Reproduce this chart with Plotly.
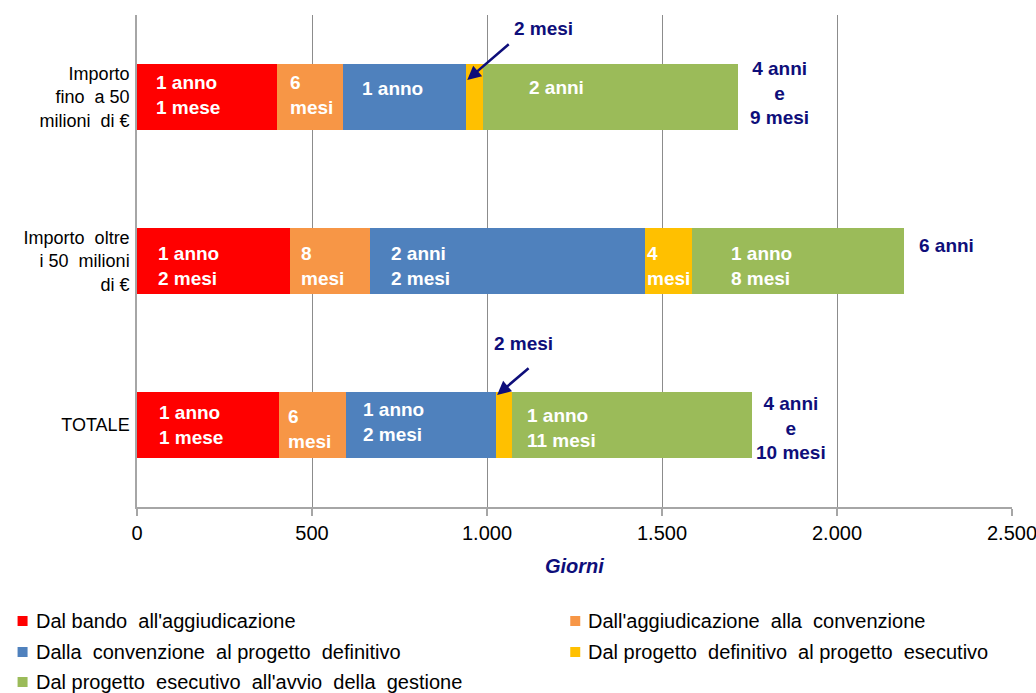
import plotly.graph_objects as go

# Categories (top to bottom) and phase durations in days
categories = [
    "Importo<br>fino  a 50<br>milioni  di €",
    "Importo  oltre<br>i 50  milioni<br>di €",
    "TOTALE",
]
phases = [
    "Dal bando  all'aggiudicazione",
    "Dall'aggiudicazione  alla  convenzione",
    "Dalla  convenzione  al progetto  definitivo",
    "Dal progetto  definitivo  al progetto  esecutivo",
    "Dal progetto  esecutivo  all'avvio  della  gestione",
]
bando_aggiudicazione = [401, 437, 405]
aggiudicazione_convenzione = [187, 229, 192]
convenzione_definitivo = [351, 784, 429]
definitivo_esecutivo = [49, 136, 45]
esecutivo_gestione = [730, 605, 686]

# Duration labels written on each segment (None = labelled with an arrow)
labels_bando = ["1 anno<br>1 mese", "1 anno<br>2 mesi", "1 anno<br>1 mese"]
labels_aggiudicazione = ["6<br>mesi", "8<br>mesi", "6<br>mesi"]
labels_convenzione = ["1 anno", "2 anni<br>2 mesi", "1 anno<br>2 mesi"]
labels_definitivo = [None, "4<br>mesi", None]
labels_esecutivo = ["2 anni", "1 anno<br>8 mesi", "1 anno<br>11 mesi"]
labels_totale = ["4 anni<br>e<br>9 mesi", "6 anni", "4 anni<br>e<br>10 mesi"]
arrow_label = "2 mesi"

x_ticks = [0, 500, 1000, 1500, 2000, 2500]

series = [
    bando_aggiudicazione,
    aggiudicazione_convenzione,
    convenzione_definitivo,
    definitivo_esecutivo,
    esecutivo_gestione,
]
series_labels = [
    labels_bando,
    labels_aggiudicazione,
    labels_convenzione,
    labels_definitivo,
    labels_esecutivo,
]
colors = ["#FF0000", "#F79646", "#4F81BD", "#FFC000", "#9BBB59"]
navy = "#0E0E7A"
FONT = "Liberation Sans, Arial, sans-serif"

# Label placement (pixel offsets from the start of each segment / row centre)
label_dx = [
    [17, 19, 20],
    [11, 9, 7],
    [17, 19, 15],
    [0, 0, 0],
    [44, 37, 13],
]
label_dy = [
    [2.5, -5, 0.5],
    [2.5, -5, -4],
    [8.7, -5, 3],
    [0, -5, 0],
    [10, -5, -2.5],
]
total_dx = [41, 43, 39]
total_dy = [4, 16, -2.5]

# plot area in pixels
L, R, T, B = 136.5, 1012, 15, 507
W, H = 1036, 693

fig = go.Figure()
for name, vals, col in zip(phases, series, colors):
    fig.add_trace(go.Bar(
        y=categories, x=vals, name=name, orientation="h",
        marker=dict(color=col, line=dict(width=0)),
        showlegend=False, hoverinfo="x+name",
    ))

annotations = []
starts = [0, 0, 0]
seg_starts = []
for s, vals in enumerate(series):
    seg_starts.append(list(starts))
    for i, v in enumerate(vals):
        lab = series_labels[s][i]
        if lab is not None:
            annotations.append(dict(
                x=starts[i], y=categories[i], xref="x", yref="y",
                text=lab, showarrow=False, xanchor="left", yanchor="middle",
                align="left", xshift=label_dx[s][i], yshift=label_dy[s][i],
                font=dict(family=FONT, size=19, color="white", weight="bold"),
            ))
        starts[i] += v

totals = starts
for i, tot in enumerate(totals):
    annotations.append(dict(
        x=tot, y=categories[i], xref="x", yref="y", text=labels_totale[i],
        showarrow=False, xanchor="center", yanchor="middle", align="center",
        xshift=total_dx[i], yshift=total_dy[i],
        font=dict(family=FONT, size=19, color=navy, weight="bold"),
    ))

# arrows pointing at the short yellow segments
arrow_rows = [0, 2]
arrow_tip = {0: (1.6, 17), 2: (1.0, 30)}
arrow_tail = {0: (43, -37), 2: (33, -28)}
arrow_text = {0: (77.6, 69), 2: (27, 82)}
for i in arrow_rows:
    x0 = seg_starts[3][i]
    dx, dy = arrow_tip[i]
    annotations.append(dict(
        x=x0, y=categories[i], xref="x", yref="y", text="",
        showarrow=True, ax=arrow_tail[i][0], ay=arrow_tail[i][1],
        axref="pixel", ayref="pixel", xshift=dx, yshift=dy,
        arrowhead=2, arrowsize=1.1, arrowwidth=2.5, arrowcolor=navy,
    ))
    tx, ty = arrow_text[i]
    annotations.append(dict(
        x=x0, y=categories[i], xref="x", yref="y", text=arrow_label,
        showarrow=False, xanchor="center", yanchor="middle",
        xshift=tx, yshift=ty,
        font=dict(family=FONT, size=19, color=navy, weight="bold"),
    ))

# axis title
annotations.append(dict(
    x=0.5, y=(B - 566) / (B - T), xref="paper", yref="paper",
    text="<b><i>Giorni</i></b>", showarrow=False, xanchor="center",
    yanchor="middle", font=dict(family=FONT, size=20, color=navy),
))

# legend built from squares and text, two columns
def px(xp):
    return (xp - L) / (R - L)

def py(yp):
    return (B - yp) / (B - T)

legend_pos = [(17, 621), (570, 621), (17, 652), (570, 652), (17, 682)]
shapes = []
for name, col, (lx, ly) in zip(phases, colors, legend_pos):
    shapes.append(dict(
        type="rect", xref="paper", yref="paper",
        x0=px(lx), x1=px(lx + 10), y0=py(ly + 5), y1=py(ly - 5),
        fillcolor=col, line=dict(width=0),
    ))
    annotations.append(dict(
        x=px(lx + 16), y=py(ly), xref="paper", yref="paper", text=name,
        showarrow=False, xanchor="left", yanchor="middle",
        font=dict(family=FONT, size=20, color="black"),
    ))

fig.update_layout(
    barmode="stack", bargap=0.6,
    width=W, height=H,
    margin=dict(l=L, r=W - R, t=T, b=H - B, pad=0, autoexpand=False),
    paper_bgcolor="white", plot_bgcolor="white",
    separators=",.",
    font=dict(family=FONT, size=18, color="black"),
    annotations=annotations, shapes=shapes,
    showlegend=False,
    xaxis=dict(
        range=[0, 2500], tickvals=x_ticks, tickformat=",d",
        showgrid=True, gridcolor="#8C8C8C", gridwidth=1,
        showline=True, linecolor="#A6A6A6", linewidth=1.5,
        ticks="outside", ticklen=7, tickcolor="#A6A6A6", tickwidth=1.5,
        tickfont=dict(family=FONT, size=20, color="black"),
        ticklabeloverflow="allow", automargin=False, zeroline=False,
    ),
    yaxis=dict(
        categoryorder="array", categoryarray=categories,
        range=[2.5, -0.5], showgrid=False, zeroline=False,
        showline=True, linecolor="#A6A6A6", linewidth=1.5,
        ticks="", ticklabelstandoff=2, automargin=False,
        tickfont=dict(family=FONT, size=18, color="black"),
    ),
)

fig.write_html("out.html")
